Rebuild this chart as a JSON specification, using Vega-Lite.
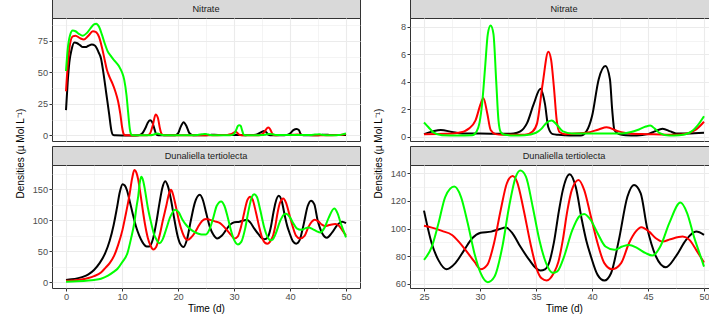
{
  "$schema": "https://vega.github.io/schema/vega-lite/v6.json",
  "padding": {"left": 14, "top": -2, "right": -10, "bottom": 5},
  "background": "white",
  "datasets": {
    "nitrate": [
      {"t":0,"v":20,"run":"A"},{"t":0.3,"v":42,"run":"A"},{"t":0.6,"v":58,"run":"A"},{"t":1,"v":68,"run":"A"},{"t":1.5,"v":73.5,"run":"A"},{"t":2,"v":73,"run":"A"},{"t":2.5,"v":71.5,"run":"A"},{"t":3,"v":70,"run":"A"},{"t":3.5,"v":70,"run":"A"},{"t":4,"v":71,"run":"A"},{"t":4.6,"v":72,"run":"A"},{"t":5.2,"v":71,"run":"A"},{"t":5.8,"v":66,"run":"A"},{"t":6.25,"v":61,"run":"A"},{"t":6.7,"v":49,"run":"A"},{"t":7.2,"v":33,"run":"A"},{"t":7.7,"v":17,"run":"A"},{"t":8.1,"v":4,"run":"A"},{"t":8.4,"v":0.4,"run":"A"},{"t":8.8,"v":0.05,"run":"A"},{"t":10,"v":0.02,"run":"A"},{"t":12,"v":0.02,"run":"A"},{"t":13,"v":0.2,"run":"A"},{"t":13.6,"v":1.5,"run":"A"},{"t":14.2,"v":6,"run":"A"},{"t":14.6,"v":10,"run":"A"},{"t":15,"v":12,"run":"A"},{"t":15.4,"v":10.5,"run":"A"},{"t":15.8,"v":5,"run":"A"},{"t":16.1,"v":1,"run":"A"},{"t":16.5,"v":0.2,"run":"A"},{"t":18,"v":0.1,"run":"A"},{"t":19.5,"v":0.2,"run":"A"},{"t":20,"v":1.5,"run":"A"},{"t":20.5,"v":7,"run":"A"},{"t":21,"v":10.5,"run":"A"},{"t":21.5,"v":7.5,"run":"A"},{"t":22,"v":2,"run":"A"},{"t":22.5,"v":0.4,"run":"A"},{"t":23,"v":0.2,"run":"A"},{"t":24,"v":0.2,"run":"A"},{"t":25,"v":0.2,"run":"A"},{"t":25.8,"v":0.4,"run":"A"},{"t":26.5,"v":0.5,"run":"A"},{"t":27.5,"v":0.36,"run":"A"},{"t":28.4,"v":0.25,"run":"A"},{"t":30,"v":0.25,"run":"A"},{"t":32,"v":0.22,"run":"A"},{"t":33,"v":0.25,"run":"A"},{"t":33.6,"v":0.4,"run":"A"},{"t":34.2,"v":1.0,"run":"A"},{"t":34.8,"v":2.4,"run":"A"},{"t":35.4,"v":3.5,"run":"A"},{"t":35.8,"v":2.4,"run":"A"},{"t":36.1,"v":0.7,"run":"A"},{"t":36.5,"v":0.2,"run":"A"},{"t":37,"v":0.15,"run":"A"},{"t":38,"v":0.1,"run":"A"},{"t":39,"v":0.1,"run":"A"},{"t":39.5,"v":0.4,"run":"A"},{"t":40,"v":1.5,"run":"A"},{"t":40.6,"v":4.2,"run":"A"},{"t":41.2,"v":5.15,"run":"A"},{"t":41.6,"v":4.2,"run":"A"},{"t":41.8,"v":2.0,"run":"A"},{"t":42,"v":0.5,"run":"A"},{"t":42.4,"v":0.2,"run":"A"},{"t":43,"v":0.12,"run":"A"},{"t":44,"v":0.1,"run":"A"},{"t":45,"v":0.2,"run":"A"},{"t":45.6,"v":0.4,"run":"A"},{"t":46.3,"v":0.6,"run":"A"},{"t":47,"v":0.4,"run":"A"},{"t":47.5,"v":0.25,"run":"A"},{"t":48.5,"v":0.25,"run":"A"},{"t":50,"v":0.3,"run":"A"},
      {"t":0,"v":35,"run":"B"},{"t":0.3,"v":55,"run":"B"},{"t":0.7,"v":72,"run":"B"},{"t":1.2,"v":78.5,"run":"B"},{"t":1.7,"v":79,"run":"B"},{"t":2.5,"v":77,"run":"B"},{"t":3.2,"v":76,"run":"B"},{"t":4,"v":79,"run":"B"},{"t":4.8,"v":82.5,"run":"B"},{"t":5.3,"v":82,"run":"B"},{"t":5.9,"v":78,"run":"B"},{"t":6.4,"v":70,"run":"B"},{"t":6.9,"v":60,"run":"B"},{"t":7.3,"v":52,"run":"B"},{"t":7.8,"v":46,"run":"B"},{"t":8.3,"v":41,"run":"B"},{"t":8.8,"v":35,"run":"B"},{"t":9.3,"v":27,"run":"B"},{"t":9.7,"v":17,"run":"B"},{"t":10,"v":7,"run":"B"},{"t":10.3,"v":1,"run":"B"},{"t":10.6,"v":0.05,"run":"B"},{"t":12,"v":0.02,"run":"B"},{"t":14.5,"v":0.1,"run":"B"},{"t":15,"v":1.5,"run":"B"},{"t":15.5,"v":8,"run":"B"},{"t":16,"v":16.5,"run":"B"},{"t":16.4,"v":14,"run":"B"},{"t":16.8,"v":5,"run":"B"},{"t":17.1,"v":1,"run":"B"},{"t":17.5,"v":0.2,"run":"B"},{"t":20,"v":0.15,"run":"B"},{"t":22,"v":0.2,"run":"B"},{"t":25,"v":0.2,"run":"B"},{"t":27,"v":0.22,"run":"B"},{"t":28.1,"v":0.3,"run":"B"},{"t":28.6,"v":0.4,"run":"B"},{"t":29,"v":0.6,"run":"B"},{"t":29.6,"v":1.2,"run":"B"},{"t":30.06,"v":2.4,"run":"B"},{"t":30.3,"v":2.83,"run":"B"},{"t":30.65,"v":1.7,"run":"B"},{"t":30.95,"v":0.5,"run":"B"},{"t":31.4,"v":0.2,"run":"B"},{"t":32,"v":0.15,"run":"B"},{"t":34,"v":0.15,"run":"B"},{"t":34.7,"v":0.4,"run":"B"},{"t":35.1,"v":1.0,"run":"B"},{"t":35.6,"v":3.9,"run":"B"},{"t":36.1,"v":6.2,"run":"B"},{"t":36.35,"v":5.6,"run":"B"},{"t":36.6,"v":3.6,"run":"B"},{"t":36.85,"v":1.2,"run":"B"},{"t":37.1,"v":0.35,"run":"B"},{"t":37.6,"v":0.2,"run":"B"},{"t":38.5,"v":0.25,"run":"B"},{"t":39.5,"v":0.3,"run":"B"},{"t":40.6,"v":0.54,"run":"B"},{"t":41.3,"v":0.7,"run":"B"},{"t":42.3,"v":0.42,"run":"B"},{"t":43.3,"v":0.25,"run":"B"},{"t":45,"v":0.2,"run":"B"},{"t":47.5,"v":0.15,"run":"B"},{"t":48.5,"v":0.25,"run":"B"},{"t":49.3,"v":0.54,"run":"B"},{"t":50,"v":1.1,"run":"B"},
      {"t":0,"v":51,"run":"C"},{"t":0.3,"v":68,"run":"C"},{"t":0.7,"v":79,"run":"C"},{"t":1.2,"v":83,"run":"C"},{"t":1.7,"v":82.5,"run":"C"},{"t":2.3,"v":80.5,"run":"C"},{"t":3,"v":79,"run":"C"},{"t":3.7,"v":81,"run":"C"},{"t":4.4,"v":85,"run":"C"},{"t":5,"v":88,"run":"C"},{"t":5.4,"v":88.5,"run":"C"},{"t":5.9,"v":86,"run":"C"},{"t":6.4,"v":80,"run":"C"},{"t":6.9,"v":73,"run":"C"},{"t":7.4,"v":67,"run":"C"},{"t":8,"v":63,"run":"C"},{"t":8.5,"v":60,"run":"C"},{"t":9,"v":57.5,"run":"C"},{"t":9.5,"v":54.5,"run":"C"},{"t":10,"v":50,"run":"C"},{"t":10.4,"v":44,"run":"C"},{"t":10.8,"v":32,"run":"C"},{"t":11.1,"v":18,"run":"C"},{"t":11.4,"v":5,"run":"C"},{"t":11.7,"v":0.5,"run":"C"},{"t":12,"v":0.1,"run":"C"},{"t":15,"v":0.1,"run":"C"},{"t":15.6,"v":0.5,"run":"C"},{"t":16.2,"v":1.5,"run":"C"},{"t":16.6,"v":1.2,"run":"C"},{"t":17.2,"v":0.3,"run":"C"},{"t":18,"v":0.1,"run":"C"},{"t":20,"v":0.1,"run":"C"},{"t":22,"v":0.15,"run":"C"},{"t":23.5,"v":0.4,"run":"C"},{"t":24.3,"v":0.9,"run":"C"},{"t":24.7,"v":1.1,"run":"C"},{"t":25,"v":1.05,"run":"C"},{"t":25.4,"v":0.7,"run":"C"},{"t":25.8,"v":0.35,"run":"C"},{"t":26.6,"v":0.12,"run":"C"},{"t":28,"v":0.1,"run":"C"},{"t":29.3,"v":0.12,"run":"C"},{"t":29.7,"v":0.4,"run":"C"},{"t":29.95,"v":1.0,"run":"C"},{"t":30.2,"v":2.5,"run":"C"},{"t":30.45,"v":5.0,"run":"C"},{"t":30.7,"v":7.5,"run":"C"},{"t":30.95,"v":8.1,"run":"C"},{"t":31.2,"v":7.5,"run":"C"},{"t":31.45,"v":4.0,"run":"C"},{"t":31.65,"v":1.2,"run":"C"},{"t":31.85,"v":0.35,"run":"C"},{"t":32.2,"v":0.15,"run":"C"},{"t":33,"v":0.1,"run":"C"},{"t":34,"v":0.12,"run":"C"},{"t":35,"v":0.3,"run":"C"},{"t":35.5,"v":0.6,"run":"C"},{"t":35.9,"v":1.0,"run":"C"},{"t":36.4,"v":1.2,"run":"C"},{"t":36.9,"v":0.85,"run":"C"},{"t":37.4,"v":0.4,"run":"C"},{"t":38.2,"v":0.25,"run":"C"},{"t":40,"v":0.25,"run":"C"},{"t":42.7,"v":0.25,"run":"C"},{"t":43.5,"v":0.35,"run":"C"},{"t":44.2,"v":0.54,"run":"C"},{"t":44.8,"v":0.75,"run":"C"},{"t":45.2,"v":0.82,"run":"C"},{"t":45.6,"v":0.6,"run":"C"},{"t":46,"v":0.3,"run":"C"},{"t":46.9,"v":0.1,"run":"C"},{"t":47.8,"v":0.12,"run":"C"},{"t":48.7,"v":0.3,"run":"C"},{"t":49.4,"v":0.8,"run":"C"},{"t":50,"v":1.5,"run":"C"}
    ],
    "dunaliella": [
      {"t":0,"v":4,"run":"A"},{"t":1,"v":5,"run":"A"},{"t":2,"v":6.5,"run":"A"},{"t":3,"v":9,"run":"A"},{"t":4,"v":13,"run":"A"},{"t":5,"v":20,"run":"A"},{"t":6,"v":31,"run":"A"},{"t":7,"v":47,"run":"A"},{"t":7.8,"v":67,"run":"A"},{"t":8.5,"v":92,"run":"A"},{"t":9.1,"v":120,"run":"A"},{"t":9.6,"v":145,"run":"A"},{"t":10.1,"v":158,"run":"A"},{"t":10.5,"v":156,"run":"A"},{"t":10.9,"v":148,"run":"A"},{"t":11.4,"v":130,"run":"A"},{"t":11.9,"v":111,"run":"A"},{"t":12.5,"v":90,"run":"A"},{"t":13.1,"v":75,"run":"A"},{"t":13.7,"v":64,"run":"A"},{"t":14.4,"v":58,"run":"A"},{"t":14.9,"v":58,"run":"A"},{"t":15.5,"v":69,"run":"A"},{"t":16.1,"v":95,"run":"A"},{"t":16.7,"v":128,"run":"A"},{"t":17.2,"v":152,"run":"A"},{"t":17.7,"v":163,"run":"A"},{"t":18.2,"v":155,"run":"A"},{"t":18.75,"v":133,"run":"A"},{"t":19.3,"v":104,"run":"A"},{"t":19.9,"v":76,"run":"A"},{"t":20.4,"v":62,"run":"A"},{"t":21,"v":57,"run":"A"},{"t":21.6,"v":69,"run":"A"},{"t":22.3,"v":100,"run":"A"},{"t":23,"v":128,"run":"A"},{"t":23.9,"v":141,"run":"A"},{"t":24.5,"v":131,"run":"A"},{"t":25,"v":113,"run":"A"},{"t":25.7,"v":89,"run":"A"},{"t":26.3,"v":77,"run":"A"},{"t":27,"v":70.6,"run":"A"},{"t":27.8,"v":75,"run":"A"},{"t":28.6,"v":84.6,"run":"A"},{"t":29.3,"v":93,"run":"A"},{"t":30.06,"v":97,"run":"A"},{"t":31,"v":97.8,"run":"A"},{"t":31.7,"v":99.5,"run":"A"},{"t":32.3,"v":100.7,"run":"A"},{"t":32.9,"v":96.6,"run":"A"},{"t":33.6,"v":87,"run":"A"},{"t":34.4,"v":77.3,"run":"A"},{"t":35,"v":71.3,"run":"A"},{"t":35.4,"v":69.6,"run":"A"},{"t":35.8,"v":70.5,"run":"A"},{"t":36.2,"v":76,"run":"A"},{"t":36.6,"v":90,"run":"A"},{"t":37.05,"v":113,"run":"A"},{"t":37.4,"v":128,"run":"A"},{"t":38,"v":139.3,"run":"A"},{"t":38.55,"v":130,"run":"A"},{"t":39.1,"v":106,"run":"A"},{"t":39.5,"v":91,"run":"A"},{"t":39.9,"v":80,"run":"A"},{"t":40.5,"v":66.5,"run":"A"},{"t":41.1,"v":62.4,"run":"A"},{"t":41.7,"v":67.7,"run":"A"},{"t":42.4,"v":91.8,"run":"A"},{"t":43.16,"v":123,"run":"A"},{"t":43.75,"v":131.6,"run":"A"},{"t":44.35,"v":125.5,"run":"A"},{"t":44.9,"v":101.4,"run":"A"},{"t":45.3,"v":89,"run":"A"},{"t":45.7,"v":80,"run":"A"},{"t":46.6,"v":72,"run":"A"},{"t":47.5,"v":80,"run":"A"},{"t":48.4,"v":91.8,"run":"A"},{"t":49.3,"v":97.8,"run":"A"},{"t":50,"v":95.4,"run":"A"},
      {"t":0,"v":2.5,"run":"B"},{"t":1,"v":3,"run":"B"},{"t":2,"v":4,"run":"B"},{"t":3,"v":5,"run":"B"},{"t":4,"v":7,"run":"B"},{"t":5,"v":10,"run":"B"},{"t":6.25,"v":16,"run":"B"},{"t":7,"v":23,"run":"B"},{"t":7.8,"v":31,"run":"B"},{"t":8.6,"v":43,"run":"B"},{"t":9.3,"v":60,"run":"B"},{"t":10.1,"v":85,"run":"B"},{"t":10.7,"v":111,"run":"B"},{"t":11.3,"v":139,"run":"B"},{"t":11.8,"v":167,"run":"B"},{"t":12.2,"v":181,"run":"B"},{"t":12.6,"v":176,"run":"B"},{"t":12.9,"v":165,"run":"B"},{"t":13.3,"v":142,"run":"B"},{"t":13.7,"v":117,"run":"B"},{"t":14.1,"v":94,"run":"B"},{"t":14.6,"v":72,"run":"B"},{"t":15.1,"v":59,"run":"B"},{"t":15.6,"v":53,"run":"B"},{"t":16.1,"v":57,"run":"B"},{"t":16.7,"v":75,"run":"B"},{"t":17.3,"v":100,"run":"B"},{"t":17.9,"v":123,"run":"B"},{"t":18.4,"v":143,"run":"B"},{"t":18.75,"v":149,"run":"B"},{"t":19.1,"v":142,"run":"B"},{"t":19.6,"v":123,"run":"B"},{"t":20.2,"v":98,"run":"B"},{"t":20.8,"v":80,"run":"B"},{"t":21.2,"v":72,"run":"B"},{"t":21.7,"v":68.5,"run":"B"},{"t":22.3,"v":72,"run":"B"},{"t":23,"v":80,"run":"B"},{"t":23.5,"v":88,"run":"B"},{"t":24.3,"v":99,"run":"B"},{"t":25,"v":102,"run":"B"},{"t":25.7,"v":100.7,"run":"B"},{"t":26.6,"v":98.3,"run":"B"},{"t":27.5,"v":95.4,"run":"B"},{"t":28.1,"v":90.6,"run":"B"},{"t":28.7,"v":84.6,"run":"B"},{"t":29.5,"v":76,"run":"B"},{"t":30.06,"v":70.6,"run":"B"},{"t":30.65,"v":73.7,"run":"B"},{"t":31.25,"v":89.4,"run":"B"},{"t":31.85,"v":113.5,"run":"B"},{"t":32.4,"v":132.8,"run":"B"},{"t":32.9,"v":138,"run":"B"},{"t":33.3,"v":134,"run":"B"},{"t":33.9,"v":113.5,"run":"B"},{"t":34.5,"v":89.4,"run":"B"},{"t":35.1,"v":70,"run":"B"},{"t":35.5,"v":64,"run":"B"},{"t":35.95,"v":62.4,"run":"B"},{"t":36.6,"v":68,"run":"B"},{"t":37,"v":76,"run":"B"},{"t":37.4,"v":92,"run":"B"},{"t":37.8,"v":113,"run":"B"},{"t":38.2,"v":128,"run":"B"},{"t":38.8,"v":135.2,"run":"B"},{"t":39.3,"v":128,"run":"B"},{"t":39.9,"v":108.7,"run":"B"},{"t":40.5,"v":89.4,"run":"B"},{"t":41.1,"v":75,"run":"B"},{"t":41.8,"v":70.6,"run":"B"},{"t":42.6,"v":75,"run":"B"},{"t":43.3,"v":89.4,"run":"B"},{"t":43.9,"v":97.8,"run":"B"},{"t":44.4,"v":101,"run":"B"},{"t":45.1,"v":97.8,"run":"B"},{"t":45.7,"v":93,"run":"B"},{"t":46.3,"v":90.6,"run":"B"},{"t":47,"v":92.3,"run":"B"},{"t":48.1,"v":94.2,"run":"B"},{"t":48.7,"v":91.8,"run":"B"},{"t":49.3,"v":84.6,"run":"B"},{"t":50,"v":75.4,"run":"B"},
      {"t":0,"v":1.2,"run":"C"},{"t":2,"v":1.8,"run":"C"},{"t":4,"v":3,"run":"C"},{"t":5,"v":4,"run":"C"},{"t":6.25,"v":6,"run":"C"},{"t":7.5,"v":11,"run":"C"},{"t":8.5,"v":17,"run":"C"},{"t":9.2,"v":22,"run":"C"},{"t":10,"v":32,"run":"C"},{"t":11,"v":48,"run":"C"},{"t":11.6,"v":70,"run":"C"},{"t":12.2,"v":96,"run":"C"},{"t":12.6,"v":122,"run":"C"},{"t":12.9,"v":139,"run":"C"},{"t":13.2,"v":162,"run":"C"},{"t":13.45,"v":170,"run":"C"},{"t":13.8,"v":163,"run":"C"},{"t":14.1,"v":149,"run":"C"},{"t":14.6,"v":121,"run":"C"},{"t":15.2,"v":96,"run":"C"},{"t":15.7,"v":78,"run":"C"},{"t":16.1,"v":70,"run":"C"},{"t":16.7,"v":63,"run":"C"},{"t":17.3,"v":70,"run":"C"},{"t":17.9,"v":86,"run":"C"},{"t":18.6,"v":105,"run":"C"},{"t":19.5,"v":117,"run":"C"},{"t":20.1,"v":113,"run":"C"},{"t":20.8,"v":101,"run":"C"},{"t":21.5,"v":92,"run":"C"},{"t":22.3,"v":85,"run":"C"},{"t":23,"v":81,"run":"C"},{"t":23.8,"v":78,"run":"C"},{"t":24.5,"v":77,"run":"C"},{"t":25,"v":77.3,"run":"C"},{"t":25.7,"v":87,"run":"C"},{"t":26.3,"v":104,"run":"C"},{"t":26.9,"v":123,"run":"C"},{"t":27.7,"v":130.4,"run":"C"},{"t":28.3,"v":123,"run":"C"},{"t":28.9,"v":104,"run":"C"},{"t":29.5,"v":82.2,"run":"C"},{"t":30.06,"v":67.7,"run":"C"},{"t":30.7,"v":61.2,"run":"C"},{"t":31.3,"v":65.3,"run":"C"},{"t":32,"v":87,"run":"C"},{"t":32.6,"v":116,"run":"C"},{"t":33.2,"v":137.6,"run":"C"},{"t":33.6,"v":142,"run":"C"},{"t":34.1,"v":137.6,"run":"C"},{"t":34.7,"v":116,"run":"C"},{"t":35.3,"v":91.8,"run":"C"},{"t":35.9,"v":75,"run":"C"},{"t":36.5,"v":68,"run":"C"},{"t":36.9,"v":69,"run":"C"},{"t":37.4,"v":77.3,"run":"C"},{"t":38.25,"v":99,"run":"C"},{"t":38.85,"v":108.7,"run":"C"},{"t":39.3,"v":110.6,"run":"C"},{"t":39.9,"v":106,"run":"C"},{"t":40.5,"v":96.6,"run":"C"},{"t":41.2,"v":87,"run":"C"},{"t":42,"v":84.6,"run":"C"},{"t":42.7,"v":87,"run":"C"},{"t":43.3,"v":88.2,"run":"C"},{"t":44.05,"v":85.8,"run":"C"},{"t":44.8,"v":82.2,"run":"C"},{"t":45.4,"v":80.5,"run":"C"},{"t":46.1,"v":87,"run":"C"},{"t":46.9,"v":103.9,"run":"C"},{"t":47.9,"v":118.8,"run":"C"},{"t":48.5,"v":111,"run":"C"},{"t":49.1,"v":94.2,"run":"C"},{"t":49.7,"v":79.8,"run":"C"},{"t":50,"v":72.5,"run":"C"}
    ]
  },
  "concat": [
    {
      "width": 308, "height": 19,
      "data": {"values": [{"label": "Nitrate"}]},
      "mark": {"type": "text", "fontSize": 9.2, "color": "#1a1a1a", "font": "Liberation Sans"},
      "encoding": {"text": {"field": "label", "type": "nominal"}},
      "view": {"fill": "#d9d9d9", "stroke": "#333333", "strokeWidth": 1}
    },
    {
      "width": 308, "height": 19,
      "data": {"values": [{"label": "Nitrate"}]},
      "mark": {"type": "text", "fontSize": 9.2, "color": "#1a1a1a", "font": "Liberation Sans"},
      "encoding": {"text": {"field": "label", "type": "nominal"}},
      "view": {"fill": "#d9d9d9", "stroke": "#333333", "strokeWidth": 1}
    },
    {
      "width": 308, "height": 123,
      "data": {"name": "nitrate"},
      "mark": {"type": "line", "clip": true},
      "encoding": {
        "x": {"field": "t", "type": "quantitative",
          "scale": {"domain": [-2.5, 52.5], "nice": false, "zero": false},
          "axis": {"title": null, "values": [0,5,10,15,20,25,30,35,40,45,50], "labels": false, "ticks": false,
            "gridWidth": {"condition": {"test": "datum.value % 10 !== 0", "value": 0.55}, "value": 1.1}}},
        "y": {"field": "v", "type": "quantitative",
          "scale": {"domain": [-4.43, 93.0], "nice": false, "zero": false},
          "axis": {"title": null, "values": [0,12.5,25,37.5,50,62.5,75,87.5],
            "labelExpr": "datum.value % 25 === 0 ? datum.label : ''",
            "tickOpacity": {"condition": {"test": "datum.value % 25 !== 0", "value": 0}, "value": 1},
            "gridWidth": {"condition": {"test": "datum.value % 25 !== 0", "value": 0.55}, "value": 1.1}}},
        "color": {"field": "run", "type": "nominal", "scale": {"domain": ["A","B","C"], "range": ["#000000","#ff0000","#00ff00"]}, "legend": null}
      }
    },
    {
      "width": 308, "height": 123,
      "data": {"name": "nitrate"},
      "transform": [{"filter": "datum.t >= 25"}],
      "mark": {"type": "line", "clip": true},
      "encoding": {
        "x": {"field": "t", "type": "quantitative",
          "scale": {"domain": [23.75, 51.25], "nice": false, "zero": false},
          "axis": {"title": null, "values": [25,27.5,30,32.5,35,37.5,40,42.5,45,47.5,50], "labels": false, "ticks": false,
            "gridWidth": {"condition": {"test": "datum.value % 5 !== 0", "value": 0.55}, "value": 1.1}}},
        "y": {"field": "v", "type": "quantitative",
          "scale": {"domain": [-0.3, 8.65], "nice": false, "zero": false},
          "axis": {"title": null, "values": [0,1,2,3,4,5,6,7,8],
            "labelExpr": "datum.value % 2 === 0 ? datum.label : ''",
            "tickOpacity": {"condition": {"test": "datum.value % 2 !== 0", "value": 0}, "value": 1},
            "gridWidth": {"condition": {"test": "datum.value % 2 !== 0", "value": 0.55}, "value": 1.1}}},
        "color": {"field": "run", "type": "nominal", "scale": {"domain": ["A","B","C"], "range": ["#000000","#ff0000","#00ff00"]}, "legend": null}
      }
    },
    {
      "width": 308, "height": 5,
      "data": {"values": []},
      "mark": "point",
      "view": {"stroke": null}
    },
    {
      "width": 308, "height": 5,
      "data": {"values": []},
      "mark": "point",
      "view": {"stroke": null}
    },
    {
      "width": 308, "height": 19,
      "data": {"values": [{"label": "Dunaliella tertiolecta"}]},
      "mark": {"type": "text", "fontSize": 9.2, "color": "#1a1a1a", "font": "Liberation Sans"},
      "encoding": {"text": {"field": "label", "type": "nominal"}},
      "view": {"fill": "#d9d9d9", "stroke": "#333333", "strokeWidth": 1}
    },
    {
      "width": 308, "height": 19,
      "data": {"values": [{"label": "Dunaliella tertiolecta"}]},
      "mark": {"type": "text", "fontSize": 9.2, "color": "#1a1a1a", "font": "Liberation Sans"},
      "encoding": {"text": {"field": "label", "type": "nominal"}},
      "view": {"fill": "#d9d9d9", "stroke": "#333333", "strokeWidth": 1}
    },
    {
      "width": 308, "height": 123,
      "data": {"name": "dunaliella"},
      "mark": {"type": "line", "clip": true},
      "encoding": {
        "x": {"field": "t", "type": "quantitative",
          "scale": {"domain": [-2.5, 52.5], "nice": false, "zero": false},
          "axis": {"title": "Time (d)", "values": [0,5,10,15,20,25,30,35,40,45,50],
            "labelExpr": "datum.value % 10 === 0 ? datum.label : ''",
            "tickOpacity": {"condition": {"test": "datum.value % 10 !== 0", "value": 0}, "value": 1},
            "gridWidth": {"condition": {"test": "datum.value % 10 !== 0", "value": 0.55}, "value": 1.1}}},
        "y": {"field": "v", "type": "quantitative",
          "scale": {"domain": [-9, 189], "nice": false, "zero": false},
          "axis": {"title": "Densities (µ Mol L⁻¹)", "titleX": -32, "titleY": -12, "titleAngle": 270, "titleAlign": "center", "titleBaseline": "middle",
            "values": [0,25,50,75,100,125,150,175],
            "labelExpr": "datum.value % 50 === 0 ? datum.label : ''",
            "tickOpacity": {"condition": {"test": "datum.value % 50 !== 0", "value": 0}, "value": 1},
            "gridWidth": {"condition": {"test": "datum.value % 50 !== 0", "value": 0.55}, "value": 1.1}}},
        "color": {"field": "run", "type": "nominal", "scale": {"domain": ["A","B","C"], "range": ["#000000","#ff0000","#00ff00"]}, "legend": null}
      }
    },
    {
      "width": 308, "height": 123,
      "data": {"name": "dunaliella"},
      "transform": [{"filter": "datum.t >= 25"}],
      "mark": {"type": "line", "clip": true},
      "encoding": {
        "x": {"field": "t", "type": "quantitative",
          "scale": {"domain": [23.75, 51.25], "nice": false, "zero": false},
          "axis": {"title": "Time (d)", "values": [25,27.5,30,32.5,35,37.5,40,42.5,45,47.5,50],
            "labelExpr": "datum.value % 5 === 0 ? datum.label : ''",
            "tickOpacity": {"condition": {"test": "datum.value % 5 !== 0", "value": 0}, "value": 1},
            "gridWidth": {"condition": {"test": "datum.value % 5 !== 0", "value": 0.55}, "value": 1.1}}},
        "y": {"field": "v", "type": "quantitative",
          "scale": {"domain": [57, 146], "nice": false, "zero": false},
          "axis": {"title": "Densities (µ Mol L⁻¹)", "titleX": -31.5, "titleY": -12, "titleAngle": 270, "titleAlign": "center", "titleBaseline": "middle",
            "values": [60,70,80,90,100,110,120,130,140],
            "labelExpr": "datum.value % 20 === 0 ? datum.label : ''",
            "tickOpacity": {"condition": {"test": "datum.value % 20 !== 0", "value": 0}, "value": 1},
            "gridWidth": {"condition": {"test": "datum.value % 20 !== 0", "value": 0.55}, "value": 1.1}}},
        "color": {"field": "run", "type": "nominal", "scale": {"domain": ["A","B","C"], "range": ["#000000","#ff0000","#00ff00"]}, "legend": null}
      }
    }
  ],
  "columns": 2,
  "spacing": {"row": 0, "column": 50},
  "bounds": "flush",
  "config": {
    "font": "Liberation Sans",
    "view": {"stroke": "#333333", "strokeWidth": 1},
    "line": {"strokeWidth": 2, "interpolate": "monotone"},
    "axis": {
      "labelFont": "Liberation Sans", "labelFontSize": 9.2, "labelColor": "#4d4d4d",
      "labelOverlap": false, "labelFlush": false, "labelPadding": 1.5,
      "tickColor": "#333333", "tickSize": 3, "tickWidth": 1,
      "domain": false, "grid": true, "gridColor": "#ebebeb",
      "titleFont": "Liberation Sans", "titleFontSize": 10, "titleFontWeight": "normal", "titleColor": "#000000", "titlePadding": 2
    }
  }
}
